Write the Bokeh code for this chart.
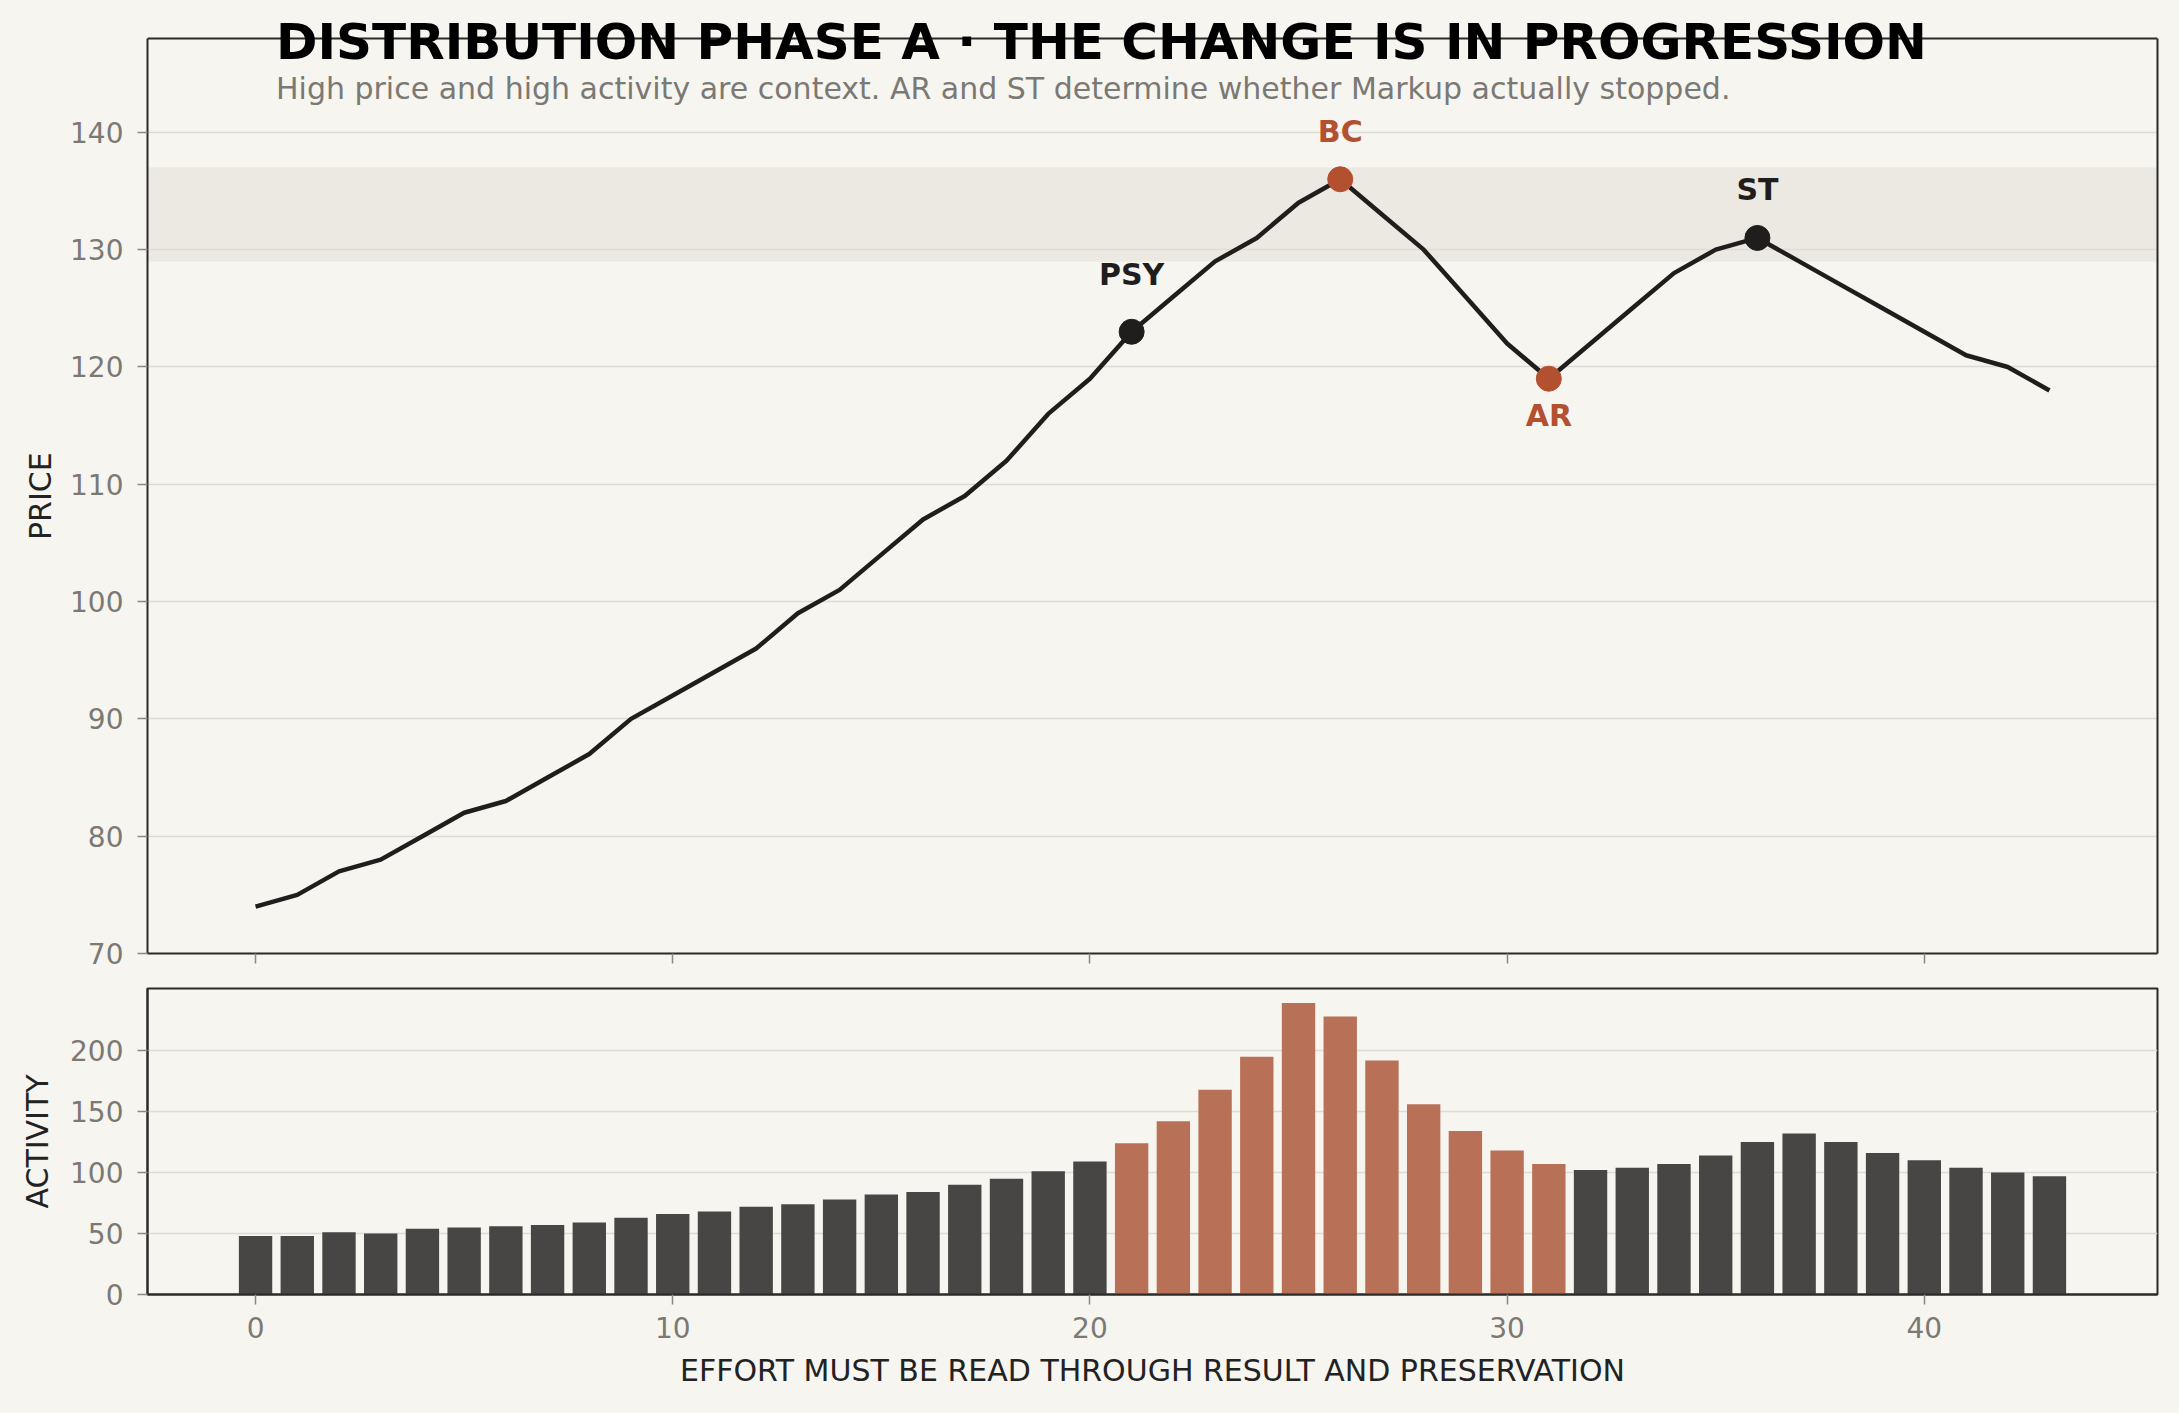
from bokeh.plotting import figure
from bokeh.layouts import column
from bokeh.models import (Range1d, FixedTicker, BoxAnnotation, Label, ColumnDataSource,
                          LinearAxis, Span, Title)
from bokeh.embed import file_html
from bokeh.resources import INLINE

# ---------------- data ----------------
steps = list(range(44))
price = [74, 75, 77, 78, 80, 82, 83, 85, 87, 90,
         92, 94, 96, 99, 101, 104, 107, 109, 112, 116,
         119, 123, 126, 129, 131, 134, 136, 133, 130, 126,
         122, 119, 122, 125, 128, 130, 131, 129, 127, 125,
         123, 121, 120, 118]
activity = [48, 48, 51, 50, 54, 55, 56, 57, 59, 63,
            66, 68, 72, 74, 78, 82, 84, 90, 95, 101,
            109, 124, 142, 168, 195, 239, 228, 192, 156, 134,
            118, 107, 102, 104, 107, 114, 125, 132, 125, 116,
            110, 104, 100, 97]
event_names = ["PSY", "BC", "AR", "ST"]
event_steps = [21, 26, 31, 36]
event_accent = [False, True, True, False]
zone_low, zone_high = 129, 137
price_lim = (70, 148)
price_ticks = [70, 80, 90, 100, 110, 120, 130, 140]
activity_ticks = [0, 50, 100, 150, 200]
step_ticks = [0, 10, 20, 30, 40]
title_text = "DISTRIBUTION PHASE A \u00b7 THE CHANGE IS IN PROGRESSION"
subtitle_text = "High price and high activity are context. AR and ST determine whether Markup actually stopped."
price_label = "PRICE"
activity_label = "ACTIVITY"
x_label = "EFFORT MUST BE READ THROUGH RESULT AND PRESERVATION"

# ---------------- style ----------------
BG = "#f7f5f0"
INK = "#1f1e1c"
ACCENT = "#b3502f"
BAR_DARK = "#474644"
BAR_ACCENT = "#b87156"
GRID = "#dddbd5"
TICK_TXT = "#7b7974"
FRAME = "#2b2a28"
LABEL_INK = "#222222"
FONT = "DejaVu Sans"

W = 2179
LEFT, RIGHT = 147, 22
AXES_TOP, H1_FRAME, H1_BOTTOM = 38, 915, 20      # price axes box starts 38px below canvas top
H2_TOP, H2_FRAME, H2_BOTTOM = 15, 306, 119
PRICE_LABEL_PX = 88                              # approx. rendered length of the y label

x_lo = min(steps) - 0.4 - 0.05 * (max(steps) - min(steps) + 0.8)
x_hi = max(steps) + 0.4 + 0.05 * (max(steps) - min(steps) + 0.8)


def style(p, yticks):
    p.background_fill_color = BG
    p.border_fill_color = BG
    p.outline_line_color = FRAME
    p.outline_line_width = 2
    p.xgrid.visible = False
    p.ygrid.grid_line_color = GRID
    p.ygrid.grid_line_width = 1.5
    p.ygrid.ticker = FixedTicker(ticks=yticks)
    for ax in (p.xaxis[0], p.yaxis[0]):
        ax.axis_line_color = FRAME
        ax.axis_line_width = 2
        ax.major_tick_line_color = "#8a8883"
        ax.major_tick_line_width = 1.5
        ax.major_tick_out = 10
        ax.major_tick_in = 0
        ax.minor_tick_line_color = None
        ax.major_label_text_font = FONT
        ax.major_label_text_font_size = "28px"
        ax.major_label_text_color = TICK_TXT
        ax.axis_label_text_font = FONT
        ax.axis_label_text_font_size = "30px"
        ax.axis_label_text_font_style = "normal"
        ax.axis_label_text_color = LABEL_INK
    p.yaxis.ticker = FixedTicker(ticks=yticks)
    p.xaxis.ticker = FixedTicker(ticks=step_ticks)
    p.yaxis.major_label_standoff = 14
    p.yaxis.axis_label_standoff = 12


# ---------------- price panel ----------------
# The drawing frame reaches the canvas top so the title can overlap the axes box;
# the visible box is drawn at the price limits.
frame_h = AXES_TOP + H1_FRAME
y_top = price_lim[0] + (price_lim[1] - price_lim[0]) * frame_h / H1_FRAME
p1 = figure(width=W, height=frame_h + H1_BOTTOM,
            x_range=Range1d(x_lo, x_hi), y_range=Range1d(price_lim[0], y_top),
            output_backend="svg", toolbar_location=None, title=None,
            min_border_left=LEFT, min_border_right=RIGHT,
            min_border_top=0, min_border_bottom=H1_BOTTOM)
style(p1, price_ticks)
p1.outline_line_color = None
p1.yaxis.bounds = price_lim
# y label centred on the visible axes box (not on the taller drawing frame)
p1.add_layout(Title(text=price_label, align="left",
                    offset=H1_FRAME / 2 - PRICE_LABEL_PX / 2,
                    text_font=FONT, text_font_size="30px", text_font_style="normal",
                    text_color=LABEL_INK, standoff=19), "left")
# shared x: ticks only, no tick labels on the upper panel
p1.xaxis.major_label_text_font_size = "1px"
p1.xaxis.major_label_text_color = None
p1.xaxis.major_label_standoff = 0

right_ax = LinearAxis(bounds=price_lim, ticker=FixedTicker(ticks=[]),
                      axis_line_color=FRAME, axis_line_width=2,
                      major_tick_out=0, major_tick_in=0, major_tick_line_color=None,
                      minor_tick_line_color=None,
                      major_label_text_font_size="1px", major_label_text_color=None,
                      major_label_standoff=0)
p1.add_layout(right_ax, "right")
p1.add_layout(Span(location=price_lim[1], dimension="width",
                   line_color=FRAME, line_width=2))

band = BoxAnnotation(bottom=zone_low, top=zone_high, fill_color="#e2ded3",
                     fill_alpha=0.5, line_color=None, level="underlay")
p1.add_layout(band)

p1.line(steps, price, line_width=4.5, line_color=INK)

ev_price = [price[s] for s in event_steps]
ev_color = [ACCENT if a else INK for a in event_accent]
src_ev = ColumnDataSource(dict(x=event_steps, y=ev_price, c=ev_color))
p1.scatter("x", "y", source=src_ev, size=25, fill_color="c", line_color="c")

label_offsets = {"PSY": 57, "BC": 48, "AR": -37, "ST": 48}
for name, s, yv, c in zip(event_names, event_steps, ev_price, ev_color):
    p1.add_layout(Label(x=s, y=yv, text=name, y_offset=label_offsets[name],
                        text_align="center", text_baseline="middle",
                        text_font=FONT, text_font_size="30px",
                        text_font_style="bold", text_color=c))

# title / subtitle (screen units relative to frame bottom-left)
p1.add_layout(Label(x=128.5, y=frame_h - 41, x_units="screen", y_units="screen",
                    text=title_text, text_font=FONT, text_font_size="50px",
                    text_font_style="bold", text_color="#000000",
                    text_baseline="alphabetic", text_align="left"))
p1.add_layout(Label(x=128.5, y=frame_h - 88, x_units="screen", y_units="screen",
                    text=subtitle_text, text_font=FONT, text_font_size="30px",
                    text_color="#7b7974",
                    text_baseline="alphabetic", text_align="left"))

# ---------------- activity panel ----------------
p2 = figure(width=W, height=H2_TOP + H2_FRAME + H2_BOTTOM,
            x_range=p1.x_range, y_range=Range1d(0, max(activity) * 1.05),
            output_backend="svg", toolbar_location=None, title=None,
            min_border_left=LEFT, min_border_right=RIGHT,
            min_border_top=H2_TOP, min_border_bottom=H2_BOTTOM)
style(p2, activity_ticks)
p2.yaxis.axis_label = activity_label
p2.xaxis.axis_label = x_label
p2.xaxis.major_label_standoff = 12
p2.xaxis.axis_label_standoff = 12

lo, hi = event_steps[0], event_steps[2]
bar_colors = [BAR_ACCENT if lo <= s <= hi else BAR_DARK for s in steps]
src_bar = ColumnDataSource(dict(x=steps, top=activity, c=bar_colors))
p2.vbar(x="x", top="top", bottom=0, width=0.8, source=src_bar,
        fill_color="c", line_color=None)

layout = column(p1, p2, spacing=0)
layout.styles = {"background-color": BG}

html = file_html(layout, INLINE, title="Distribution Phase A")
html = html.replace("<body>", '<body style="margin:0;background:%s;">' % BG)
open("out.html", "w").write(html)
